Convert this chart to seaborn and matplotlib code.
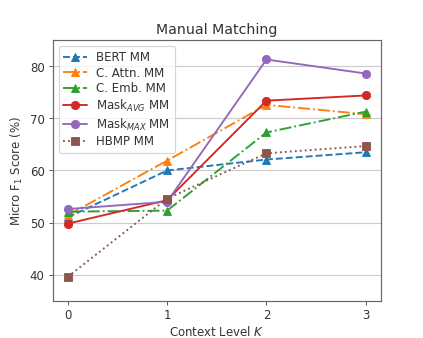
import matplotlib
matplotlib.use("Agg")
import matplotlib.pyplot as plt
import seaborn as sns
import pandas as pd

context = [0, 1, 2, 3]
bert_mm = [51.0, 60.0, 62.1, 63.5]
cattn_mm = [51.4, 61.9, 72.6, 70.8]
cemb_mm = [52.1, 52.3, 67.3, 71.3]
mask_avg_mm = [49.8, 54.3, 73.4, 74.4]
mask_max_mm = [52.6, 54.0, 81.3, 78.6]
hbmp_mm = [39.6, 54.6, 63.3, 64.7]

labels = ["BERT MM", "C. Attn. MM", "C. Emb. MM", r"Mask$_{AVG}$ MM", r"Mask$_{MAX}$ MM", "HBMP MM"]
series = [bert_mm, cattn_mm, cemb_mm, mask_avg_mm, mask_max_mm, hbmp_mm]
pal = sns.color_palette("tab10")
colors = [pal[0], pal[1], pal[2], pal[3], pal[4], pal[5]]
styles = ["--", "-.", "-.", "-", "-", ":"]
markers = ["^", "^", "^", "o", "o", "s"]

sns.set_style("white")
plt.rcParams["font.family"] = ["DejaVu Sans"]
fig, ax = plt.subplots(figsize=(5.0, 4.0), dpi=84.6)
fig.subplots_adjust(left=0.125, right=0.9, top=0.88, bottom=0.11)

for lab, vals, c, ls, m in zip(labels, series, colors, styles, markers):
    df = pd.DataFrame({"K": context, "F1": vals})
    sns.lineplot(data=df, x="K", y="F1", ax=ax, color=c, linestyle=ls, marker=m,
                 markersize=7, linewidth=1.6, markeredgecolor=c, label=lab)

ax.set_xlim(-0.15, 3.15)
ax.set_ylim(35, 85)
ax.set_xticks([0, 1, 2, 3])
ax.set_yticks([40, 50, 60, 70, 80])
ax.yaxis.grid(True, color="#cccccc", linewidth=1.0)
ax.xaxis.grid(False)
for s in ax.spines.values():
    s.set_color("#666666")
    s.set_linewidth(1.0)
ax.tick_params(axis="both", which="both", direction="out", length=3.5, width=0.8, color="#555555",
               labelsize=10, labelcolor="#333333", bottom=True, left=True)
ax.set_xlabel("Context Level $K$", fontsize=10, color="#333333", labelpad=2)
ax.set_ylabel("Micro F$_1$ Score (%)", fontsize=10, color="#333333")
ax.set_title("Manual Matching", fontsize=12, color="#333333")
leg = ax.legend(loc="upper left", fontsize=10, frameon=True, labelspacing=0.22)
leg.get_frame().set_edgecolor("#cccccc")
for t in leg.get_texts():
    t.set_color("#333333")

fig.savefig("out.png", dpi=84.6)
